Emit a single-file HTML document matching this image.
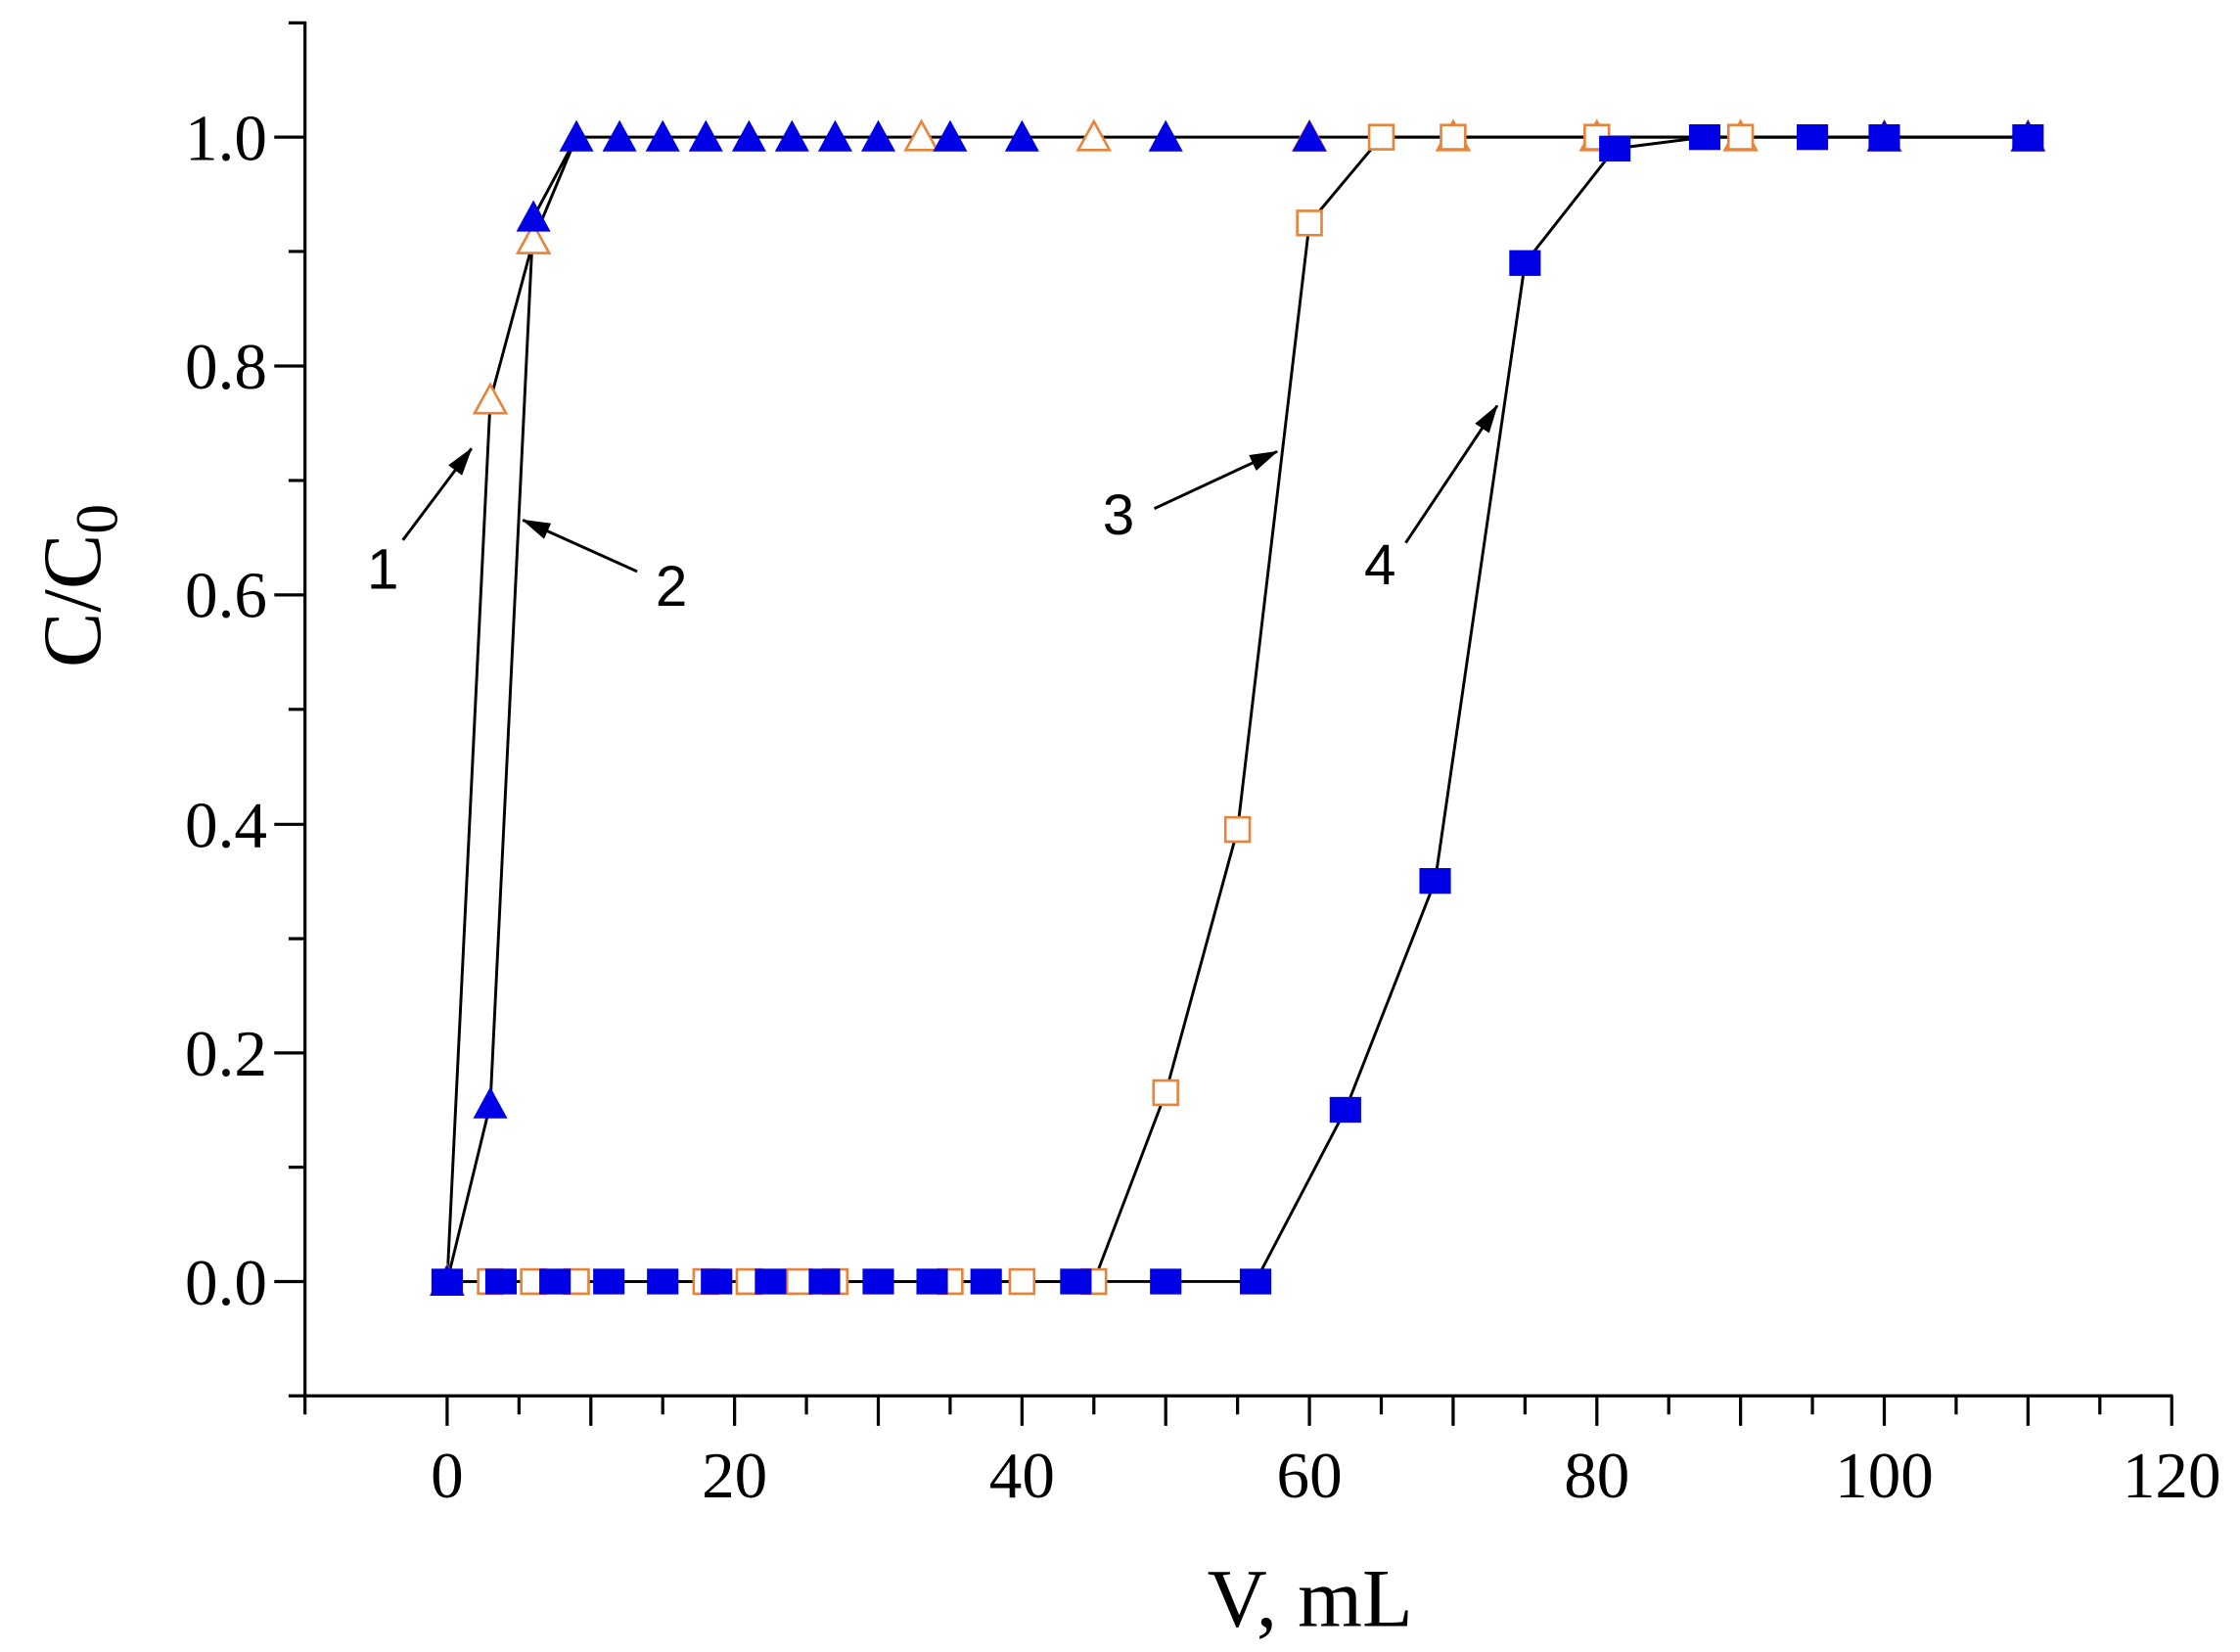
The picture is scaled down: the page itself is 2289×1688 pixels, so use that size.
<!DOCTYPE html>
<html><head><meta charset="utf-8"><style>
html,body{margin:0;padding:0;background:#fff;}
svg{display:block;}
</style></head><body>
<svg width="2289" height="1688" viewBox="0 0 1568 1156.3" xmlns="http://www.w3.org/2000/svg">
<defs>
<polygon id="tb" points="-12,10 12,10 0,-12" fill="#0000e6"/>
<polygon id="to" points="-11,9 11,9 0,-11" fill="#fff" stroke="#e8843a" stroke-width="1.8"/>
<rect id="sb" x="-11" y="-9" width="22" height="18" fill="#0000e6"/>
<rect id="so" x="-8.5" y="-8.5" width="17" height="17" fill="#fff" stroke="#e8843a" stroke-width="1.8"/>
<marker id="ah" markerWidth="20" markerHeight="12" refX="19" refY="6" orient="auto" markerUnits="userSpaceOnUse" viewBox="0 0 20 12"><path d="M0,0 L20,6 L0,12 z" fill="#000"/></marker>
</defs>
<g stroke="#000" stroke-width="2.2" fill="none">
<line x1="213.5" y1="15" x2="213.5" y2="978"/>
<line x1="212" y1="977" x2="1521" y2="977"/>
<path d="M192 897H213 M192 737H213 M192 577H213 M192 416.4H213 M192 256.2H213 M192 96H213"/>
<path d="M202 977H213 M202 817H213 M202 657H213 M202 496.5H213 M202 336.3H213 M202 176H213 M202 16H213"/>
<path d="M213.5 977V990 M313 977V998 M363.3 977V990 M413.6 977V998 M463.9 977V990 M514.2 977V998 M564.5 977V990 M614.8 977V998 M665.1 977V990 M715.4 977V998 M765.7 977V990 M816 977V998 M866.3 977V990 M916.6 977V998 M966.9 977V990 M1017.2 977V998 M1067.5 977V990 M1117.8 977V998 M1168.1 977V990 M1218.4 977V998 M1268.7 977V990 M1319 977V998 M1369.3 977V990 M1419.6 977V998 M1469.9 977V990 M1520.2 977V998"/>
</g>
<g font-family="Liberation Serif, serif" font-size="46" fill="#000">
<g text-anchor="end">
<text x="187" y="913">0.0</text>
<text x="187" y="753">0.2</text>
<text x="187" y="593">0.4</text>
<text x="187" y="432">0.6</text>
<text x="187" y="272">0.8</text>
<text x="187" y="112">1.0</text>
</g>
<g text-anchor="middle">
<text x="313" y="1048">0</text>
<text x="514.2" y="1048">20</text>
<text x="715.4" y="1048">40</text>
<text x="916.6" y="1048">60</text>
<text x="1117.8" y="1048">80</text>
<text x="1319" y="1048">100</text>
<text x="1520.2" y="1048">120</text>
</g>
<text x="917" y="1138" font-size="58" text-anchor="middle">V, mL</text>
<text transform="translate(70,410) rotate(-90)" font-size="58" text-anchor="middle">C/C<tspan font-size="42" dy="12">0</tspan></text>
</g>
<g stroke="#000" stroke-width="2" fill="none">
<polyline points="313,897 343.2,280.2 373.4,168.1 403.5,96 1419.6,96"/>
<polyline points="313,897 343.2,772.8 373.4,152.1 403.5,96"/>
<polyline points="313,897 765.7,897 816,764.8 866.3,580.6 916.6,156.1 966.9,96 1419.6,96"/>
<polyline points="313,897 878.9,897 941.8,776.8 1004.6,616.6 1067.5,184.1 1130.4,104 1193.3,96 1419.6,96"/>
</g>
<g>
<use href="#to" x="313" y="897"/><use href="#to" x="343.2" y="280.2"/><use href="#to" x="373.4" y="168.1"/>
<use href="#to" x="645" y="96"/><use href="#to" x="765.7" y="96"/><use href="#to" x="916.6" y="96"/>
<use href="#to" x="1017.2" y="96"/><use href="#to" x="1117.8" y="96"/><use href="#to" x="1218.4" y="96"/>
<use href="#to" x="1319" y="96"/><use href="#to" x="1419.6" y="96"/>
</g>
<g>
<use href="#tb" x="313" y="897"/><use href="#tb" x="343.2" y="772.8"/><use href="#tb" x="373.4" y="152.1"/>
<use href="#tb" x="403.5" y="96"/><use href="#tb" x="433.7" y="96"/><use href="#tb" x="463.9" y="96"/>
<use href="#tb" x="494.1" y="96"/><use href="#tb" x="524.3" y="96"/><use href="#tb" x="554.4" y="96"/>
<use href="#tb" x="584.6" y="96"/><use href="#tb" x="614.8" y="96"/><use href="#tb" x="665.1" y="96"/>
<use href="#tb" x="715.4" y="96"/><use href="#tb" x="816" y="96"/><use href="#tb" x="916.6" y="96"/>
<use href="#tb" x="1319" y="96"/><use href="#tb" x="1419.6" y="96"/>
</g>
<g>
<use href="#so" x="343.2" y="897"/><use href="#so" x="373.4" y="897"/><use href="#so" x="403.5" y="897"/>
<use href="#so" x="494.1" y="897"/><use href="#so" x="524.3" y="897"/><use href="#so" x="559.4" y="897"/>
<use href="#so" x="584.6" y="897"/><use href="#so" x="665.1" y="897"/><use href="#so" x="715.4" y="897"/>
<use href="#so" x="765.7" y="897"/><use href="#so" x="816" y="764.8"/><use href="#so" x="866.3" y="580.6"/>
<use href="#so" x="916.6" y="156.1"/><use href="#so" x="966.9" y="96"/><use href="#so" x="1017.2" y="96"/>
<use href="#so" x="1117.8" y="96"/><use href="#so" x="1218.4" y="96"/>
</g>
<g>
<use href="#sb" x="313" y="897"/><use href="#sb" x="350.7" y="897"/><use href="#sb" x="388.5" y="897"/>
<use href="#sb" x="426.2" y="897"/><use href="#sb" x="463.9" y="897"/><use href="#sb" x="501.6" y="897"/>
<use href="#sb" x="539.4" y="897"/><use href="#sb" x="577.1" y="897"/><use href="#sb" x="614.8" y="897"/>
<use href="#sb" x="652.5" y="897"/><use href="#sb" x="690.3" y="897"/><use href="#sb" x="753.1" y="897"/>
<use href="#sb" x="816" y="897"/><use href="#sb" x="878.9" y="897"/><use href="#sb" x="941.8" y="776.8"/>
<use href="#sb" x="1004.6" y="616.6"/><use href="#sb" x="1067.5" y="184.1"/><use href="#sb" x="1130.4" y="104"/>
<use href="#sb" x="1193.3" y="96"/><use href="#sb" x="1268.7" y="96"/><use href="#sb" x="1319" y="96"/>
<use href="#sb" x="1419.6" y="96"/>
</g>
<g stroke="#000" stroke-width="2" fill="none" marker-end="url(#ah)">
<line x1="282" y1="378" x2="330" y2="314"/>
<line x1="446" y1="400" x2="366" y2="364"/>
<line x1="808" y1="356" x2="894" y2="316"/>
<line x1="984" y1="380" x2="1048" y2="284"/>
</g>
<g font-family="Liberation Sans, sans-serif" font-size="40" fill="#000" text-anchor="middle">
<text x="268" y="412">1</text>
<text x="470" y="424">2</text>
<text x="783" y="374">3</text>
<text x="966" y="409">4</text>
</g>
</svg>
</body></html>
